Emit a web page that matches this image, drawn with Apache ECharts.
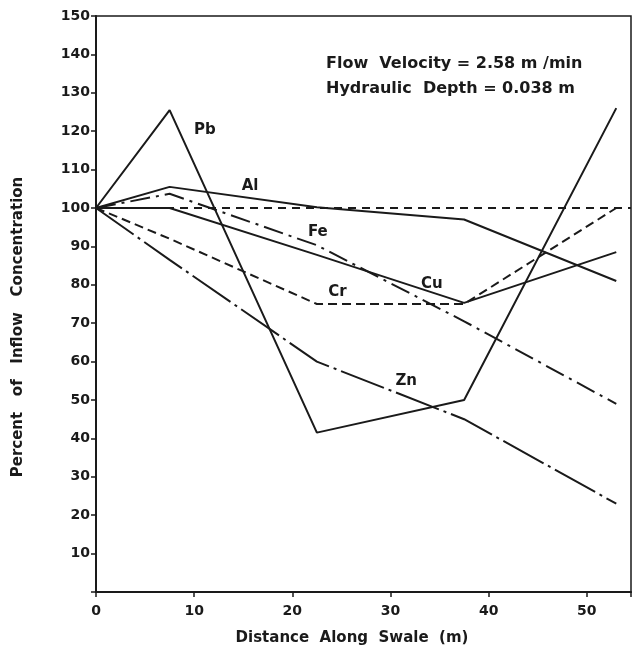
<!DOCTYPE html>
<html>
<head>
<meta charset="utf-8">
<script src="https://cdn.jsdelivr.net/npm/echarts@6/dist/echarts.min.js"></script>
<style>
  html, body { margin: 0; padding: 0; background: #fff; }
  #chart { width: 634px; height: 654px; }
</style>
</head>
<body>
<div id="chart"></div>
<script>
// sampling stations along the swale (m)
const distance = [0, 7.5, 22.5, 37.5, 53];

// percent of inflow concentration per metal
const pb = [100, 125.5, 41.5, 50, 126];
const al = [100, 105.5, 100.2, 97, 81];
const fe = [100, 103.7, 90.3, 70.5, 49];
const cu = [100, 100, 87.8, 75.3, 88.5];
const cr = [100, 92, 75, 75, 100];
const zn = [100, 86.5, 60, 45, 23];
const reference = [[0, 100], [54.5, 100]];

// where each metal name is written (data coords)
const labels = [
  { name: "Pb", at: [11.1, 120.3] },
  { name: "Al", at: [15.7, 105.6] },
  { name: "Fe", at: [22.6, 93.8] },
  { name: "Cr", at: [24.6, 78] },
  { name: "Cu", at: [34.2, 80.2] },
  { name: "Zn", at: [31.6, 55] }
];

const ink = "#1a1a1a";
const font = "DejaVu Sans";

function pairs(ys) {
  return distance.map((x, i) => [x, ys[i]]);
}

function metalLine(name, ys, dash) {
  const s = {
    name: name,
    type: "line",
    data: pairs(ys),
    symbol: "none",
    lineStyle: { color: ink, width: 2, type: dash },
    z: 3
  };
  const l = labels.find(d => d.name === name);
  if (l) {
    s.markPoint = {
      symbol: "circle",
      symbolSize: 0,
      silent: true,
      label: {
        show: true,
        formatter: name,
        color: ink,
        fontFamily: font,
        fontSize: 15,
        fontWeight: "bold"
      },
      data: [{ coord: l.at }]
    };
  }
  return s;
}

const chart = echarts.init(document.getElementById("chart"));

chart.setOption({
  animation: false,
  backgroundColor: "#fff",
  grid: {
    left: 96,
    right: 2,
    top: 16,
    bottom: 62,
    show: true,
    borderColor: ink,
    borderWidth: 1.5
  },
  xAxis: {
    type: "value",
    min: 0,
    max: 54.5,
    interval: 10,
    axisLine: { lineStyle: { color: ink, width: 2 } },
    axisTick: { show: true, length: 5, lineStyle: { color: ink, width: 1.5 } },
    splitLine: { show: false },
    axisLabel: {
      color: ink,
      fontFamily: font,
      fontSize: 14,
      fontWeight: "bold",
      margin: 12,
      formatter: v => (v % 10 === 0 ? String(v) : "")
    }
  },
  yAxis: {
    type: "value",
    min: 0,
    max: 150,
    interval: 10,
    axisLine: { show: true, lineStyle: { color: ink, width: 2 } },
    axisTick: { show: true, length: 5, lineStyle: { color: ink, width: 1.5 } },
    splitLine: { show: false },
    axisLabel: {
      color: ink,
      fontFamily: font,
      fontSize: 14,
      fontWeight: "bold",
      margin: 6,
      formatter: v => (v === 0 ? "" : String(v))
    }
  },
  graphic: [
    {
      type: "text",
      left: 326,
      top: 51,
      style: {
        text: "Flow  Velocity = 2.58 m /min\nHydraulic  Depth = 0.038 m",
        fill: ink,
        font: "bold 16px " + font,
        lineHeight: 25
      }
    },
    {
      type: "text",
      x: 18,
      y: 327,
      rotation: Math.PI / 2,
      style: {
        text: "Percent   of   Inflow   Concentration",
        fill: ink,
        font: "bold 15px " + font,
        align: "center",
        verticalAlign: "middle"
      }
    },
    {
      type: "text",
      x: 352,
      y: 638,
      style: {
        text: "Distance  Along  Swale  (m)",
        fill: ink,
        font: "bold 15px " + font,
        align: "center",
        verticalAlign: "middle"
      }
    }
  ],
  series: [
    {
      name: "100%",
      type: "line",
      data: reference,
      symbol: "none",
      lineStyle: { color: ink, width: 2, type: [8, 6] },
      z: 2
    },
    metalLine("Pb", pb, "solid"),
    metalLine("Al", al, "solid"),
    metalLine("Fe", fe, [20, 6, 3, 6]),
    metalLine("Cu", cu, "solid"),
    metalLine("Cr", cr, [9, 5]),
    metalLine("Zn", zn, [46, 5, 3, 5])
  ]
});
</script>
</body>
</html>
